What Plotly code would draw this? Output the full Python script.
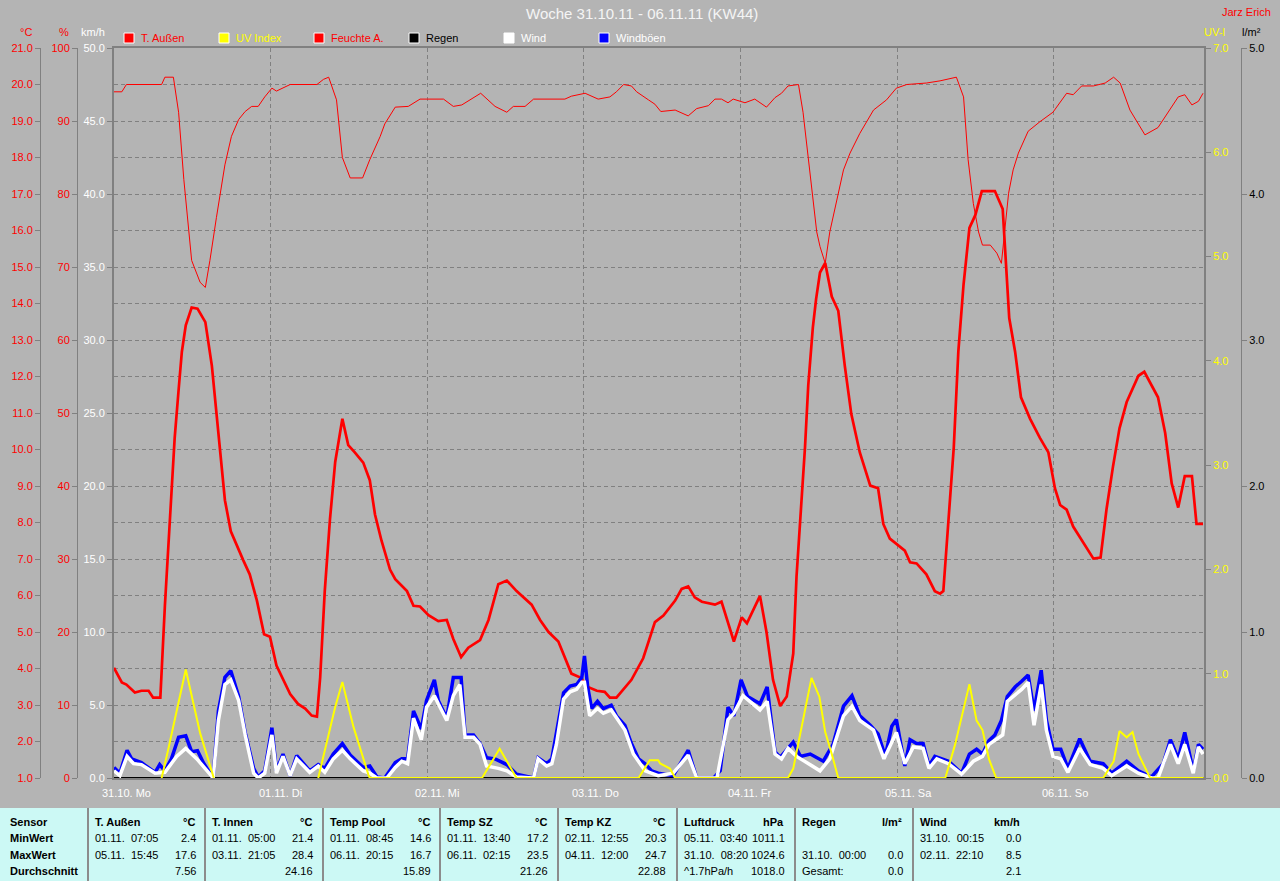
import plotly.graph_objects as go

W, H = 1280, 881
FONT = "Liberation Sans"
BG = "#b4b4b4"
GRID = "#808080"


def X(px):
    return px / W


def Y(py):
    return 1 - py / H


# ---------------- data (hours since 31.10. 00:00) ----------------
day_hours = [0, 24, 48, 72, 96, 120, 144]
day_labels = ["31.10. Mo", "01.11. Di", "02.11. Mi", "03.11. Do", "04.11. Fr", "05.11. Sa", "06.11. So"]

temp_hours = [0, 1.2, 1.9, 3.2, 4.2, 5.3, 6.0, 7.1, 7.8, 8.3, 8.8, 9.3, 9.9, 10.4, 11.0, 11.9, 12.8, 14.0,
              15.0, 15.7, 16.2, 17.0, 17.9, 18.8, 19.8, 20.8, 21.9, 23.0, 23.9, 24.9, 25.9, 27.0, 28.2, 29.3,
              30.3, 31.1, 31.6, 32.3, 33.1, 33.9, 35.0, 35.9, 36.9, 38.2, 39.2, 40.0, 41.0, 42.3, 43.1, 44.9,
              45.9, 46.9, 48.2, 49.7, 51.0, 52.0, 53.2, 54.3, 56.1, 57.4, 58.9, 60.2, 61.7, 64.0, 65.3, 66.6,
              68.1, 69.1, 70.1, 71.4, 72.7, 74.0, 75.2, 76.0, 77.0, 79.3, 81.1, 82.9, 84.2, 86.0, 87.0, 88.0,
              89.0, 90.1, 92.1, 93.1, 94.1, 95.0, 96.2, 97.0, 99.0, 100.0, 101.0, 102.1, 103.1, 104.1, 104.6,
              105.2, 105.9, 106.4, 107.1, 107.6, 108.2, 109.0, 110.0, 111.0, 112.0, 113.0, 114.3, 115.9, 117.1,
              117.9, 118.9, 121.2, 122.0, 123.0, 124.5, 125.8, 126.6, 127.1, 127.9, 128.7, 129.4, 130.2, 131.1,
              132.0, 133.0, 135.0, 136.2, 136.7, 137.2, 138.1, 139.0, 140.4, 141.9, 143.2, 144.2, 145.0, 146.0,
              147.0, 148.6, 150.1, 151.2, 152.1, 153.1, 154.1, 155.2, 157.0, 157.9, 160.0, 161.1, 162.1, 163.1,
              164.1, 165.2, 165.9, 166.9]
temp_aussen = [4.02, 3.62, 3.56, 3.34, 3.39, 3.39, 3.20, 3.20, 5.72, 7.30, 8.74, 10.32, 11.63, 12.68, 13.40,
               13.89, 13.86, 13.49, 12.29, 10.97, 9.92, 8.61, 7.76, 7.36, 6.97, 6.58, 5.86, 4.94, 4.87, 4.08,
               3.69, 3.30, 3.03, 2.90, 2.71, 2.68, 3.76, 6.12, 8.09, 9.66, 10.84, 10.12, 9.92, 9.64, 9.16, 8.22,
               7.50, 6.71, 6.45, 6.12, 5.72, 5.70, 5.46, 5.30, 5.33, 4.81, 4.31, 4.57, 4.78, 5.33, 6.31, 6.41,
               6.12, 5.75, 5.33, 5.00, 4.74, 4.28, 3.86, 3.76, 3.49, 3.39, 3.36, 3.20, 3.20, 3.69, 4.28, 5.27,
               5.45, 5.86, 6.18, 6.25, 5.95, 5.83, 5.75, 5.83, 5.27, 4.74, 5.40, 5.24, 5.99, 5.00, 3.69, 2.97,
               3.23, 4.41, 6.51, 8.09, 10.06, 11.76, 13.34, 14.12, 14.85, 15.11, 14.19, 13.80, 12.29, 10.97,
               9.92, 9.01, 8.94, 7.96, 7.56, 7.23, 6.91, 6.88, 6.58, 6.12, 6.05, 6.12, 8.09, 10.06, 12.68,
               14.52, 16.07, 16.42, 17.08, 17.08, 16.59, 14.91, 13.60, 12.68, 11.43, 10.84, 10.32, 9.92, 8.94,
               8.48, 8.35, 7.89, 7.43, 7.01, 7.04, 8.35, 9.53, 10.58, 11.30, 12.02, 12.13, 11.43, 10.45, 9.07,
               8.41, 9.27, 9.27, 7.96, 7.96]

hum_hours = [0, 1.2, 1.9, 7.3, 7.8, 9.1, 9.9, 10.7, 11.9, 13.2, 14.0, 14.7, 15.7, 17.0, 18.0, 19.1, 20.1, 21.1,
             22.1, 23.1, 24.2, 24.9, 27.0, 31.1, 32.1, 32.9, 34.1, 35.0, 36.2, 38.1, 39.2, 40.8, 41.5, 43.1,
             45.1, 46.9, 50.5, 52.0, 53.3, 56.2, 58.4, 60.2, 61.2, 63.0, 64.3, 69.1, 70.1, 72.2, 74.2, 76.0,
             77.0, 78.1, 79.3, 80.1, 81.9, 82.9, 83.8, 86.0, 88.0, 89.3, 91.1, 92.1, 93.1, 94.1, 94.9, 96.7,
             98.2, 100.0, 101.3, 102.3, 103.3, 104.9, 105.6, 106.4, 107.2, 107.7, 108.2, 109.0, 109.7, 110.8,
             111.8, 112.8, 114.3, 116.4, 118.4, 119.9, 121.5, 124.5, 126.6, 129.1, 130.2, 130.9, 131.7, 132.5,
             133.1, 134.3, 135.3, 136.0, 136.6, 137.1, 137.8, 138.6, 140.1, 141.9, 143.9, 146.0, 147.0, 148.3,
             150.1, 151.9, 153.2, 154.2, 155.7, 158.0, 160.0, 161.6, 163.1, 164.1, 165.2, 166.2, 166.9]
feuchte_aussen = [94.0, 94.0, 95.0, 95.0, 96.0, 96.0, 91.2, 82.0, 70.9, 67.9, 67.2, 70.9, 76.8, 84.0, 87.9,
                  90.2, 91.3, 92.0, 92.0, 93.3, 94.5, 94.1, 95.0, 95.0, 95.7, 96.0, 92.9, 85.0, 82.2, 82.2,
                  84.7, 87.9, 89.6, 91.9, 92.0, 93.0, 93.0, 92.0, 92.2, 93.8, 92.0, 91.2, 92.0, 92.0, 93.0,
                  93.0, 93.4, 93.8, 93.0, 93.3, 94.0, 95.0, 94.8, 94.0, 92.9, 92.3, 91.3, 91.5, 90.7, 91.7,
                  92.1, 93.0, 93.0, 92.5, 93.0, 92.5, 93.0, 91.9, 93.2, 93.8, 94.8, 95.0, 91.2, 84.7, 78.1,
                  74.8, 72.8, 70.5, 74.8, 79.4, 83.3, 85.6, 88.3, 91.5, 92.9, 94.5, 95.0, 95.2, 95.5, 96.0,
                  93.3, 84.7, 78.7, 74.8, 73.0, 73.0, 71.9, 70.5, 76.1, 80.1, 83.3, 85.6, 88.6, 89.9, 91.2,
                  93.8, 93.6, 94.8, 94.8, 95.2, 96.0, 95.2, 91.5, 88.1, 89.1, 91.2, 93.3, 93.6, 92.2, 92.7, 93.8]

uv_hours = [7.3, 8.3, 11.0, 13.2, 15.3, None, 31.3, 33.9, 35.0, 36.7, 39.0, 39.2, 56.4, 59.1, 61.7, 80.4, 82.1,
            83.4, 83.7, 85.2, 86.0, 103.3, 104.1, 105.4, 106.9, 108.1, 109.0, 110.0, 111.0, 127.4, 128.9,
            131.1, 132.2, 133.1, 134.1, 135.2, 151.6, 153.2, 154.1, 155.2, 156.1, 157.0, 158.8, 167.0]
uv_index = [0.0, 0.27, 1.04, 0.43, 0.0, None, 0.0, 0.68, 0.92, 0.49, 0.03, 0.0, 0.0, 0.28, 0.0, 0.0, 0.17,
            0.17, 0.14, 0.09, 0.0, 0.0, 0.09, 0.51, 0.96, 0.78, 0.44, 0.23, 0.0, 0.0, 0.32, 0.90, 0.55,
            0.46, 0.18, 0.0, 0.0, 0.16, 0.45, 0.39, 0.44, 0.23, 0.0, 0.0]

rain_hours = [0, 24, 48, 72, 96, 120, 144, 167]
regen = [0.0, 0.0, 0.0, 0.0, 0.0, 0.0, 0.0, 0.0]

gust_hours = [0, 0.9, 2.0, 2.7, 4.2, 6.3, 7.0, 7.8, 8.8, 9.9, 11.0, 11.9, 12.8, 13.7, 14.7, 15.2, 16.0, 17.0,
              17.9, 19.1, 20.1, 21.4, 22.1, 23.1, 24.2, 24.9, 25.9, 27.0, 28.0, 30.0, 31.3, 32.3, 33.6, 35.0,
              36.2, 37.2, 38.2, 39.2, 40.3, 41.5, 43.1, 44.1, 45.0, 45.9, 47.1, 47.9, 49.1, 49.7, 51.0, 52.0,
              53.2, 53.8, 55.1, 56.1, 57.1, 58.4, 60.2, 61.7, 63.0, 64.3, 65.0, 66.3, 67.1, 67.8, 68.9, 69.9,
              70.9, 71.7, 72.1, 72.6, 73.2, 74.1, 75.0, 76.2, 77.0, 78.3, 79.3, 80.4, 81.4, 82.4, 83.4, 85.7,
              88.0, 89.3, 91.9, 92.9, 94.1, 95.0, 96.1, 97.1, 99.0, 100.1, 101.3, 102.1, 103.1, 104.1, 105.2,
              106.7, 108.7, 110.2, 111.8, 113.1, 114.3, 115.9, 117.1, 118.2, 119.2, 119.9, 121.2, 122.0, 123.0,
              124.0, 124.9, 125.8, 127.9, 129.9, 131.1, 132.2, 133.1, 134.1, 135.0, 136.0, 136.9, 138.1, 139.1,
              140.1, 141.0, 142.1, 142.9, 143.9, 145.1, 146.2, 148.0, 149.6, 151.6, 152.9, 155.2, 157.0, 159.0,
              160.8, 161.9, 163.1, 164.1, 165.4, 166.2, 166.9]
windboeen = [0.72, 0.33, 1.90, 1.31, 1.05, 0.39, 0.92, 0.49, 1.31, 2.79, 2.89, 1.80, 1.87, 1.05, 0.33, 0.0,
             4.59, 6.89, 7.35, 5.58, 3.12, 0.66, 0.07, 0.49, 3.44, 0.49, 1.64, 0.16, 1.54, 0.49, 0.92, 0.66,
             1.64, 2.36, 1.57, 1.15, 0.72, 0.82, 0.07, 0.0, 1.05, 1.31, 1.31, 4.59, 3.35, 5.31, 6.72, 5.31,
             4.10, 6.89, 6.89, 2.95, 2.95, 2.36, 1.38, 1.31, 0.92, 0.26, 0.13, 0.0, 1.38, 0.98, 1.31, 2.95,
             5.84, 6.30, 6.40, 6.89, 8.36, 6.23, 4.76, 5.25, 4.76, 4.99, 4.26, 3.61, 2.36, 1.31, 0.98, 0.49,
             0.33, 0.16, 1.90, 0.0, 0.0, 0.49, 4.85, 4.26, 6.72, 5.58, 5.08, 6.23, 1.80, 1.41, 1.97, 2.46,
             1.48, 1.64, 1.15, 2.30, 4.92, 5.64, 4.26, 3.61, 3.02, 1.48, 3.54, 4.00, 0.82, 2.62, 2.36, 2.36,
             0.82, 1.48, 1.15, 0.33, 1.64, 1.97, 1.64, 2.56, 2.95, 3.94, 5.58, 6.23, 6.63, 7.05, 4.59, 7.38,
             3.94, 1.97, 1.97, 0.66, 2.69, 1.15, 0.98, 0.33, 1.15, 0.49, 0.07, 0.98, 2.62, 1.31, 3.12, 0.49,
             2.30, 1.97]

wind_hours = [0, 0.9, 2.0, 3.0, 4.2, 6.3, 7.8, 9.6, 11.0, 12.7, 14.7, 15.2, 16.0, 17.0, 17.9, 19.1, 20.1, 21.4,
              22.1, 23.1, 24.2, 24.9, 25.9, 27.0, 28.0, 30.0, 31.3, 32.3, 33.6, 35.0, 36.2, 38.2, 39.2, 40.3,
              41.8, 43.1, 44.1, 45.0, 45.9, 47.1, 47.9, 49.1, 49.7, 51.0, 52.0, 53.0, 53.8, 55.1, 56.1, 57.1,
              58.9, 60.2, 61.7, 64.3, 65.0, 66.3, 67.1, 67.8, 68.9, 69.9, 70.9, 71.7, 72.1, 72.9, 74.1, 75.0,
              76.2, 77.3, 78.3, 79.6, 81.4, 83.4, 85.7, 88.0, 89.3, 92.4, 94.1, 95.0, 96.4, 99.0, 100.1, 101.3,
              102.3, 103.3, 104.6, 106.2, 108.2, 109.7, 111.8, 113.1, 114.3, 116.4, 118.0, 119.9, 121.2, 122.5,
              124.0, 124.9, 126.1, 127.9, 129.9, 131.7, 133.1, 134.1, 135.0, 136.2, 136.9, 138.1, 139.1, 140.1,
              141.0, 142.1, 142.9, 143.9, 145.1, 146.2, 148.0, 149.6, 151.6, 152.9, 155.2, 157.0, 159.0, 160.0,
              161.9, 163.1, 164.1, 165.4, 166.2, 166.9]
wind = [0.49, 0.16, 1.48, 0.98, 0.92, 0.33, 0.39, 1.48, 2.03, 1.31, 0.26, 0.0, 3.94, 6.40, 6.72, 5.31, 2.95,
        0.33, 0.0, 0.33, 2.95, 0.33, 1.48, 0.16, 1.31, 0.39, 0.82, 0.39, 1.31, 1.90, 1.31, 0.49, 0.33, 0.0,
        0.0, 0.72, 1.15, 0.98, 4.10, 2.62, 4.85, 5.64, 5.08, 3.94, 5.64, 6.40, 2.79, 2.79, 2.30, 0.82, 0.66,
        0.49, 0.07, 0.0, 1.31, 0.82, 0.98, 2.30, 5.41, 5.90, 6.07, 6.56, 6.56, 4.26, 4.76, 4.43, 4.66, 3.94,
        3.28, 1.64, 0.49, 0.16, 0.33, 1.57, 0.0, 0.0, 4.00, 4.43, 5.64, 4.66, 5.25, 1.64, 1.31, 2.03, 1.48,
        1.05, 0.49, 1.31, 4.26, 4.92, 3.94, 3.28, 1.31, 3.12, 0.98, 2.13, 2.03, 0.66, 1.31, 0.98, 0.26, 1.15,
        1.48, 2.30, 2.56, 2.95, 5.25, 5.74, 6.07, 6.56, 3.61, 6.40, 3.28, 1.48, 1.31, 0.39, 2.03, 0.92, 0.66,
        0.16, 0.82, 0.33, 0.0, 0.0, 2.30, 0.98, 2.30, 0.33, 2.13, 1.64]

legend_names = ["T. Außen", "UV Index", "Feuchte A.", "Regen", "Wind", "Windböen"]
legend_fill = ["#ff0000", "#ffff00", "#ff0000", "#000000", "#ffffff", "#0000ff"]
legend_text = ["#ff0000", "#ffff00", "#ff0000", "#000000", "#ffffff", "#ffffff"]

table_sensors = ["T. Außen", "T. Innen", "Temp Pool", "Temp SZ", "Temp KZ", "Luftdruck", "Regen", "Wind"]
table_units = ["°C", "°C", "°C", "°C", "°C", "hPa", "l/m²", "km/h"]
min_time = ["01.11.  07:05", "01.11.  05:00", "01.11.  08:45", "01.11.  13:40", "02.11.  12:55",
            "05.11.  03:40", "", "31.10.  00:15"]
min_val = ["2.4", "21.4", "14.6", "17.2", "20.3", "1011.1", "", "0.0"]
max_time = ["05.11.  15:45", "03.11.  21:05", "06.11.  20:15", "06.11.  02:15", "04.11.  12:00",
            "31.10.  08:20", "31.10.  00:00", "02.11.  22:10"]
max_val = ["17.6", "28.4", "16.7", "23.5", "24.7", "1024.6", "0.0", "8.5"]
avg_label = ["", "", "", "", "", "^1.7hPa/h", "Gesamt:", ""]
avg_val = ["7.56", "24.16", "15.89", "21.26", "22.88", "1018.0", "0.0", "2.1"]
row_names = ["Sensor", "MinWert", "MaxWert", "Durchschnitt"]

# ---------------- figure ----------------
fig = go.Figure()
fig.add_trace(go.Scatter(x=rain_hours, y=regen, yaxis="y", mode="lines",
                         line=dict(color="#000000", width=2), name="Regen"))
fig.add_trace(go.Scatter(x=hum_hours, y=feuchte_aussen, yaxis="y2", mode="lines",
                         line=dict(color="#ff0000", width=1), name="Feuchte A."))
fig.add_trace(go.Scatter(x=temp_hours, y=temp_aussen, yaxis="y3", mode="lines",
                         line=dict(color="#ff0000", width=2.7), name="T. Außen"))
fig.add_trace(go.Scatter(x=gust_hours, y=windboeen, yaxis="y4", mode="lines",
                         line=dict(color="#0000ff", width=3.5), name="Windböen"))
fig.add_trace(go.Scatter(x=wind_hours, y=wind, yaxis="y4", mode="lines",
                         line=dict(color="#ffffff", width=3.5), name="Wind"))
fig.add_trace(go.Scatter(x=uv_hours, y=uv_index, yaxis="y5", mode="lines", connectgaps=False,
                         line=dict(color="#ffff00", width=2), name="UV Index"))

dom_x = [X(114), X(1204)]
dom_y = [Y(778), Y(48)]
tick_common = dict(ticks="outside", ticklen=5, tickcolor=GRID, tickwidth=1, zeroline=False,
                   showgrid=False, showline=True, linecolor=GRID, automargin=False)

fig.update_layout(
    width=W, height=H, autosize=False,
    margin=dict(l=0, r=0, t=0, b=0, pad=0, autoexpand=False),
    paper_bgcolor=BG, plot_bgcolor=BG,
    showlegend=False,
    font=dict(family=FONT, size=11),
    xaxis=dict(domain=dom_x, range=[0, 167.05], tickvals=day_hours, showticklabels=False, ticks="",
               showgrid=True, gridcolor=GRID, griddash="4px,3px", gridwidth=1, zeroline=False,
               showline=True, mirror=True, linecolor=GRID, linewidth=2, anchor="y", automargin=False),
    yaxis=dict(domain=dom_y, range=[0, 5], dtick=1, tickformat=".1f", anchor="free", position=X(1241),
               side="right", tickfont=dict(color="#000000", family=FONT, size=11), linewidth=1, **tick_common),
    yaxis2=dict(overlaying="y", range=[0, 100], dtick=10, tickformat="d", anchor="free", position=X(77),
                side="left", tickfont=dict(color="#ff0000", family=FONT, size=11), linewidth=1, **tick_common),
    yaxis3=dict(overlaying="y", range=[1, 21], dtick=1, tickformat=".1f", anchor="free", position=X(40),
                side="left", tickfont=dict(color="#ff0000", family=FONT, size=11), linewidth=1, **tick_common),
    yaxis4=dict(overlaying="y", range=[0, 50], dtick=5, tickformat=".1f", anchor="x", side="left",
                tickfont=dict(color="#ffffff", family=FONT, size=11), automargin=False,
                ticks="outside", ticklen=5, tickcolor=GRID, zeroline=False, showline=True, linecolor=GRID,
                linewidth=2, showgrid=True, gridcolor=GRID, griddash="4px,3px", gridwidth=1,
                minor=dict(dtick=2.5, showgrid=True, gridcolor=GRID, griddash="4px,3px", gridwidth=1,
                           ticks="")),
    yaxis5=dict(overlaying="y", range=[0, 7], dtick=1, tickformat=".1f", anchor="x", side="right",
                tickfont=dict(color="#ffff00", family=FONT, size=11), ticks="outside", ticklen=5,
                automargin=False, tickcolor=GRID, zeroline=False, showgrid=False, showline=True,
                linecolor=GRID, linewidth=2),
)

ann = []
shapes = []


def txt(text, px, py, color="#000000", size=11, xanchor="left", bold=False):
    if bold:
        text = "<b>" + text + "</b>"
    ann.append(dict(text=text, x=X(px), y=Y(py), xref="paper", yref="paper", xanchor=xanchor,
                    yanchor="middle", showarrow=False, font=dict(family=FONT, size=size, color=color)))


# title and header texts
txt("Woche 31.10.11 - 06.11.11 (KW44)", 642, 14, color="#f4f4f4", size=15, xanchor="center")
txt("Jarz Erich", 1273, 12, color="#ff0000", xanchor="right")
txt("°C", 26, 32, color="#ff0000", xanchor="center")
txt("%", 64, 32, color="#ff0000", xanchor="center")
txt("km/h", 93, 32, color="#ffffff", xanchor="center")
txt("UV-I", 1214, 32, color="#ffff00", xanchor="center")
txt("l/m²", 1251, 32, color="#000000", xanchor="center")

# legend
for i, (name, fc, tc) in enumerate(zip(legend_names, legend_fill, legend_text)):
    left = 124 + 95 * i
    shapes.append(dict(type="rect", xref="paper", yref="paper", x0=X(left), x1=X(left + 10),
                       y0=Y(43), y1=Y(33), fillcolor=fc, line=dict(color="#ffffff", width=1)))
    txt(name, left + 15, 38, color=tc)

# x day labels
for h, lab in zip(day_hours, day_labels):
    ann.append(dict(text=lab, x=h, y=Y(793), xref="x", yref="paper", xanchor="left", yanchor="middle",
                    xshift=-14, showarrow=False, font=dict(family=FONT, size=11, color="#ffffff")))

# table
shapes.append(dict(type="rect", xref="paper", yref="paper", x0=0, x1=1, y0=0, y1=Y(808),
                   fillcolor="#ccf9f5", line=dict(width=0), layer="below"))
seps = [88, 205, 323, 440, 558, 677, 795, 913]
rows_y = [822, 838, 855, 871]
for s in seps:
    shapes.append(dict(type="line", xref="paper", yref="paper", x0=X(s), x1=X(s), y0=0, y1=Y(808),
                       line=dict(color="#8c8c8c", width=2)))
for r, name in zip(rows_y, row_names):
    txt(name, 8, r, bold=True)
nb = lambda s: s.replace(" ", "\u00a0")
for i, s in enumerate(seps):
    txt(table_sensors[i], s + 5, rows_y[0], bold=True)
    txt(table_units[i], s + 109, rows_y[0], bold=True, xanchor="right")
    txt(nb(min_time[i]), s + 5, rows_y[1])
    txt(min_val[i], s + 110, rows_y[1], xanchor="right")
    txt(nb(max_time[i]), s + 5, rows_y[2])
    txt(max_val[i], s + 110, rows_y[2], xanchor="right")
    txt(avg_label[i], s + 5, rows_y[3])
    txt(avg_val[i], s + 110, rows_y[3], xanchor="right")

fig.update_layout(annotations=ann, shapes=shapes)

post = ("var d=document.getElementById('{plot_id}');"
        "d.style.position='absolute';d.style.top='0px';d.style.left='0px';"
        "document.body.style.margin='0';document.body.style.overflow='hidden';"
        "document.documentElement.style.overflow='hidden';")
fig.write_html("out.html", config={"displayModeBar": False}, post_script=post)
